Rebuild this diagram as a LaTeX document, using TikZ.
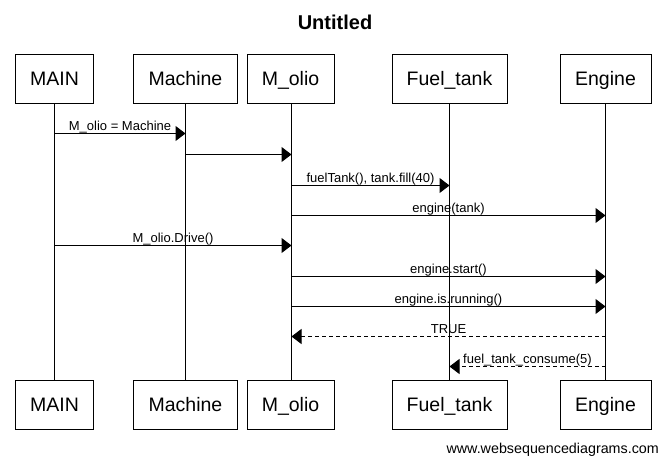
\documentclass[tikz,border=0pt]{standalone}
\usepackage{fontspec}
\setmainfont{Liberation Sans}
\usetikzlibrary{arrows.meta}
\tikzset{
  actor/.style={draw, line width=1pt, minimum height=49pt, inner sep=0pt, text height=18pt, text depth=4pt, font=\fontsize{19.5}{22}\selectfont},
  lifeline/.style={line width=1pt},
  msg/.style={line width=1pt, -{Triangle[length=10pt,width=15pt]}},
  reply/.style={msg, dash pattern=on 4pt off 3pt},
  lbl/.style={midway, anchor=base, yshift=3pt, inner sep=0pt, font=\fontsize{13}{15}\selectfont},
}
\begin{document}
\begin{tikzpicture}[x=1pt,y=-1pt]
\useasboundingbox (0,0) rectangle (665,463);
\node[font=\bfseries\fontsize{20}{24}\selectfont, anchor=base] (title) at (335,30) {Untitled};
% top boxes
\node[actor, minimum width=78pt]  (tMAIN) at (54.5,78.5) {MAIN};
\node[actor, minimum width=104pt] (tMach) at (185.5,78.5) {Machine};
\node[actor, minimum width=87pt]  (tOlio) at (290.5,78.5) {M\_olio};
\node[actor, minimum width=115pt] (tFuel) at (449.5,78.5) {Fuel\_tank};
\node[actor, minimum width=91pt]  (tEng)  at (605.5,78.5) {Engine};
% bottom boxes
\node[actor, minimum width=78pt]  (bMAIN) at (54.5,404.5) {MAIN};
\node[actor, minimum width=104pt] (bMach) at (185.5,404.5) {Machine};
\node[actor, minimum width=87pt]  (bOlio) at (290.5,404.5) {M\_olio};
\node[actor, minimum width=115pt] (bFuel) at (449.5,404.5) {Fuel\_tank};
\node[actor, minimum width=91pt]  (bEng)  at (605.5,404.5) {Engine};
% lifelines
\coordinate (lMAIN) at (54.5,0);
\coordinate (lMach) at (185.5,0);
\coordinate (lOlio) at (291.5,0);
\coordinate (lFuel) at (449.5,0);
\coordinate (lEng)  at (605.5,0);
\draw[lifeline] (lMAIN |- tMAIN.south) -- (lMAIN |- bMAIN.north);
\draw[lifeline] (lMach |- tMach.south) -- (lMach |- bMach.north);
\draw[lifeline] (lOlio |- tOlio.south) -- (lOlio |- bOlio.north);
\draw[lifeline] (lFuel |- tFuel.south) -- (lFuel |- bFuel.north);
\draw[lifeline] (lEng  |- tEng.south)  -- (lEng  |- bEng.north);
% message rows
\coordinate (r1) at (0,133.5);
\coordinate (r2) at (0,154.5);
\coordinate (r3) at (0,185.5);
\coordinate (r4) at (0,215.5);
\coordinate (r5) at (0,245.5);
\coordinate (r6) at (0,276.5);
\coordinate (r7) at (0,306.5);
\coordinate (r8) at (0,336.5);
\coordinate (r9) at (0,366.5);
\draw[msg] (lMAIN |- r1) -- (lMach |- r1) node[lbl] {M\_olio = Machine};
\draw[msg] (lMach |- r2) -- (lOlio |- r2);
\draw[msg] (lOlio |- r3) -- (lFuel |- r3) node[lbl] {fuelTank(), tank.fill(40)};
\draw[msg] (lOlio |- r4) -- (lEng |- r4) node[lbl] {engine(tank)};
\draw[msg] (lMAIN |- r5) -- (lOlio |- r5) node[lbl] {M\_olio.Drive()};
\draw[msg] (lOlio |- r6) -- (lEng |- r6) node[lbl] {engine.start()};
\draw[msg] (lOlio |- r7) -- (lEng |- r7) node[lbl] {engine.is.running()};
\draw[reply] (lEng |- r8) -- (lOlio |- r8) node[lbl] {TRUE};
\draw[reply] (lEng |- r9) -- (lFuel |- r9) node[lbl] {fuel\_tank\_consume(5)};
\node[anchor=base east, inner sep=0pt, font=\fontsize{14.3}{17}\selectfont] (web) at (659,453) {www.websequencediagrams.com};
\end{tikzpicture}
\end{document}
